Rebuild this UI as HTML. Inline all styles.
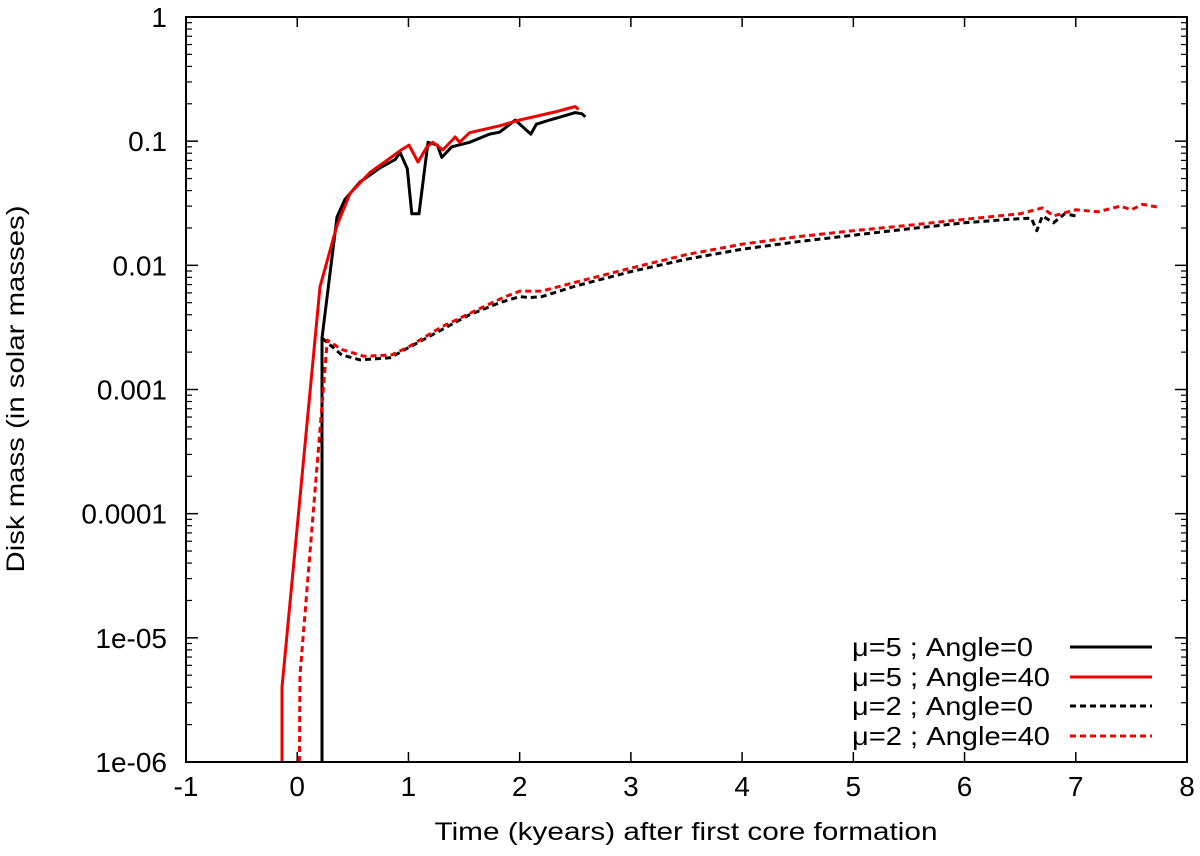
<!DOCTYPE html>
<html><head><meta charset="utf-8"><style>
body{margin:0;background:#fff}
svg{display:block;font-family:"Liberation Sans",sans-serif}
</style></head><body>
<svg id="chart" width="1200" height="856" viewBox="0 0 1200 856">
<rect x="0" y="0" width="1200" height="856" fill="#fff"/>
<g id="ticks"></g>
<g id="series"></g>
<rect x="186" y="17" width="1001" height="745" fill="none" stroke="#000" stroke-width="2"/>
<text x="686" y="840" font-size="25" text-anchor="middle" textLength="503" lengthAdjust="spacingAndGlyphs">Time (kyears) after first core formation</text>
<text x="24" y="389" font-size="25" text-anchor="middle" textLength="367" lengthAdjust="spacingAndGlyphs" transform="rotate(-90 24 389)">Disk mass (in solar masses)</text>
<g id="legend"></g>
</svg>
<script>
const xTicks=[-1,0,1,2,3,4,5,6,7,8];
const yTicks=[1,0.1,0.01,0.001,0.0001,1e-5,1e-6];
const yTickLabels=["1","0.1","0.01","0.001","0.0001","1e-05","1e-06"];
const legendLabels=["μ=5 ; Angle=0","μ=5 ; Angle=40","μ=2 ; Angle=0","μ=2 ; Angle=40"];
const s1t=[0.223,0.223,0.358,0.43,0.565,0.745,0.88,0.925,0.99,1.03,1.095,1.176,1.26,1.30,1.39,1.55,1.73,1.82,1.87,1.96,2.10,2.15,2.27,2.36,2.50,2.56,2.59];
const s1v=[1e-6,0.0026,0.0245,0.034,0.047,0.061,0.071,0.081,0.06,0.026,0.026,0.098,0.093,0.074,0.09,0.098,0.114,0.118,0.128,0.148,0.114,0.137,0.148,0.156,0.17,0.166,0.157];
const s2t=[-0.137,-0.137,0.205,0.358,0.475,0.655,0.835,0.935,1.005,1.086,1.167,1.22,1.31,1.42,1.46,1.55,1.82,2.0,2.32,2.45,2.50,2.53];
const s2v=[1e-6,4e-6,0.0067,0.021,0.038,0.056,0.073,0.085,0.093,0.068,0.09,0.098,0.085,0.108,0.098,0.117,0.133,0.148,0.172,0.185,0.19,0.18];
const s3t=[0.223,0.4,0.565,0.835,1.01,1.29,1.55,1.82,2.0,2.09,2.2,2.5,3,3.5,4,4.5,5,5.5,6,6.4,6.6,6.65,6.7,6.8,6.9,7.0];
const s3v=[0.0026,0.0019,0.00173,0.0018,0.0022,0.003,0.004,0.005,0.0056,0.0055,0.0056,0.0068,0.0089,0.0112,0.0135,0.0155,0.0175,0.0197,0.022,0.0235,0.024,0.019,0.025,0.022,0.026,0.025];
const s4t=[0.02,0.025,0.27,0.4,0.6,0.85,1.0,1.3,1.6,1.85,2.0,2.2,2.5,3,3.5,4,4.5,5,5.5,6,6.5,6.7,6.8,7,7.2,7.4,7.5,7.6,7.73];
const s4v=[1e-6,5e-6,0.0025,0.0021,0.00185,0.0019,0.0022,0.0032,0.0043,0.0055,0.0062,0.0062,0.0073,0.0095,0.0122,0.0148,0.017,0.019,0.021,0.0235,0.026,0.029,0.025,0.028,0.027,0.03,0.028,0.031,0.0295];
const X0=186,X1=1187,Y0=17,Y1=762;
const xs=t=>X0+(t+1)*(X1-X0)/9;
const ys=v=>Y0+(-Math.log10(v))*(Y1-Y0)/6;
const NS="http://www.w3.org/2000/svg";
const tg=document.getElementById('ticks');
function mk(tag,at,parent){const e=document.createElementNS(NS,tag);for(const k in at)e.setAttribute(k,at[k]);parent.appendChild(e);return e;}
xTicks.forEach(t=>{
  const x=xs(t);
  const l=mk('line',{x1:x,x2:x,y1:Y1,y2:Y1-10,stroke:'#000','stroke-width':1.5},tg);
  
  
  const l2=mk('line',{x1:x,x2:x,y1:Y0,y2:Y0+10,stroke:'#000','stroke-width':1.5},tg);
  
  
  const tx=mk('text',{x:x,y:Y1+34,'font-size':28,'text-anchor':'middle'},tg);
  tx.textContent=String(t);
  
  
});
yTicks.forEach((v,i)=>{
  const y=ys(v);
  [[X0,X0+12],[X1,X1-12]].forEach(p=>{
    const l=mk('line',{x1:p[0],x2:p[1],y1:y,y2:y,stroke:'#000','stroke-width':1.5},tg);
    
    
  });
  const tx=mk('text',{x:X0-19,y:y+10,'font-size':28,'text-anchor':'end'},tg);
  tx.textContent=yTickLabels[i];
  
  
  if(i<yTicks.length-1){
    for(let m=2;m<=9;m++){
      const ym=ys(v/10*m);
      [[X0,X0+6],[X1,X1-6]].forEach(p=>{
        const l=mk('line',{x1:p[0],x2:p[1],y1:ym,y2:ym,stroke:'#000','stroke-width':1.2},tg);
        
        
      });
    }
  }
});
const sg=document.getElementById('series');
const series=[[s1t,s1v,'#000',''],[s2t,s2v,'#e00',''],[s3t,s3v,'#000','6,4'],[s4t,s4v,'#e00','6,4']];
const names=['series-mu5-angle0','series-mu5-angle40','series-mu2-angle0','series-mu2-angle40'];
series.forEach((s,i)=>{
  const d=s[0].map((t,j)=>(j?'L':'M')+xs(t).toFixed(1)+','+ys(s[1][j]).toFixed(1)).join('');
  const p=mk('path',{d:d,fill:'none',stroke:s[2],'stroke-width':3,'stroke-dasharray':s[3]||'none','stroke-linejoin':'round'},sg);
  
  
});
const lg=document.getElementById('legend');
const ly=[647,677,706,736];
legendLabels.forEach((lab,i)=>{
  const w=lab.endsWith('40')?198:181;
  const tx=mk('text',{x:852,y:ly[i]+9,'font-size':26,'text-anchor':'start',textLength:w,lengthAdjust:'spacingAndGlyphs'},lg);
  tx.textContent=lab;
  
  
  const s=series[i];
  const l=mk('line',{x1:1070,x2:1152,y1:ly[i],y2:ly[i],stroke:s[2],'stroke-width':3,'stroke-dasharray':s[3]||'none'},lg);
  
  
});
</script>
</body></html>
